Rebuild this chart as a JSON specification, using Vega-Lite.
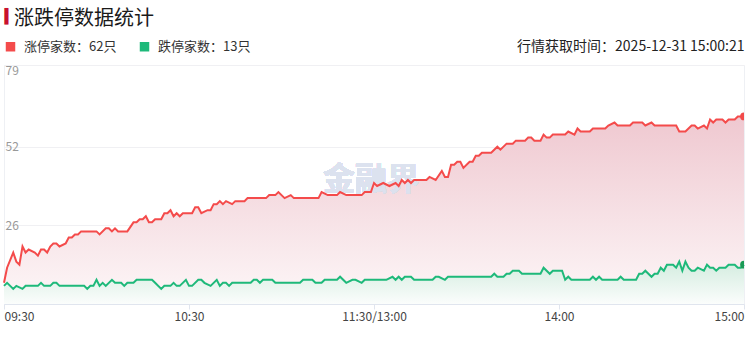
{
  "$schema": "https://vega.github.io/schema/vega-lite/v6.json",
  "width": 740,
  "height": 239,
  "autosize": {"type": "none"},
  "padding": {"left": 4, "top": 65, "right": 5, "bottom": 36},
  "background": "#ffffff",
  "config": {
    "view": {"stroke": "#eef0f4", "strokeWidth": 1},
    "font": "Noto Sans CJK SC"
  },
  "title": {
    "text": "涨跌停数据统计",
    "anchor": "start",
    "frame": "group",
    "dx": 10,
    "offset": -20,
    "fontSize": 20,
    "fontWeight": "normal",
    "color": "#1a1a1a",
    "font": "Noto Sans CJK SC"
  },
  "datasets": {
    "series": [
      {"s":"涨停家数","t":0,"v":7},{"s":"涨停家数","t":1,"v":12},{"s":"涨停家数","t":3,"v":17},{"s":"涨停家数","t":4,"v":14},{"s":"涨停家数","t":5,"v":13},{"s":"涨停家数","t":6,"v":19},{"s":"涨停家数","t":7,"v":17},{"s":"涨停家数","t":8,"v":18},{"s":"涨停家数","t":10,"v":17},{"s":"涨停家数","t":11,"v":16},{"s":"涨停家数","t":12,"v":18},{"s":"涨停家数","t":13,"v":18},{"s":"涨停家数","t":14,"v":17},{"s":"涨停家数","t":15,"v":19},{"s":"涨停家数","t":16,"v":20},{"s":"涨停家数","t":17,"v":20},{"s":"涨停家数","t":18,"v":19},{"s":"涨停家数","t":20,"v":20},{"s":"涨停家数","t":21,"v":22},{"s":"涨停家数","t":22,"v":22},{"s":"涨停家数","t":23,"v":23},{"s":"涨停家数","t":24,"v":23},{"s":"涨停家数","t":25,"v":24},{"s":"涨停家数","t":30,"v":24},{"s":"涨停家数","t":31,"v":23},{"s":"涨停家数","t":33,"v":25},{"s":"涨停家数","t":34,"v":25},{"s":"涨停家数","t":35,"v":24},{"s":"涨停家数","t":36,"v":25},{"s":"涨停家数","t":37,"v":24},{"s":"涨停家数","t":40,"v":24},{"s":"涨停家数","t":42,"v":27},{"s":"涨停家数","t":43,"v":27},{"s":"涨停家数","t":44,"v":28},{"s":"涨停家数","t":45,"v":28},{"s":"涨停家数","t":46,"v":29},{"s":"涨停家数","t":47,"v":27},{"s":"涨停家数","t":48,"v":27},{"s":"涨停家数","t":49,"v":28},{"s":"涨停家数","t":51,"v":28},{"s":"涨停家数","t":52,"v":30},{"s":"涨停家数","t":53,"v":30},{"s":"涨停家数","t":54,"v":31},{"s":"涨停家数","t":55,"v":29},{"s":"涨停家数","t":56,"v":30},{"s":"涨停家数","t":57,"v":29},{"s":"涨停家数","t":58,"v":30},{"s":"涨停家数","t":61,"v":30},{"s":"涨停家数","t":62,"v":32},{"s":"涨停家数","t":63,"v":32},{"s":"涨停家数","t":64,"v":30},{"s":"涨停家数","t":66,"v":31},{"s":"涨停家数","t":67,"v":31},{"s":"涨停家数","t":68,"v":33},{"s":"涨停家数","t":69,"v":33},{"s":"涨停家数","t":70,"v":34},{"s":"涨停家数","t":71,"v":33},{"s":"涨停家数","t":72,"v":34},{"s":"涨停家数","t":74,"v":33},{"s":"涨停家数","t":75,"v":34},{"s":"涨停家数","t":78,"v":34},{"s":"涨停家数","t":79,"v":35},{"s":"涨停家数","t":85,"v":35},{"s":"涨停家数","t":86,"v":36},{"s":"涨停家数","t":88,"v":36},{"s":"涨停家数","t":89,"v":37},{"s":"涨停家数","t":91,"v":35},{"s":"涨停家数","t":93,"v":36},{"s":"涨停家数","t":94,"v":35},{"s":"涨停家数","t":102,"v":35},{"s":"涨停家数","t":103,"v":37},{"s":"涨停家数","t":105,"v":36},{"s":"涨停家数","t":108,"v":36},{"s":"涨停家数","t":109,"v":37},{"s":"涨停家数","t":111,"v":36},{"s":"涨停家数","t":116,"v":36},{"s":"涨停家数","t":117,"v":37},{"s":"涨停家数","t":119,"v":37},{"s":"涨停家数","t":120,"v":40},{"s":"涨停家数","t":121,"v":39},{"s":"涨停家数","t":123,"v":40},{"s":"涨停家数","t":125,"v":39},{"s":"涨停家数","t":127,"v":40},{"s":"涨停家数","t":128,"v":39},{"s":"涨停家数","t":129,"v":41},{"s":"涨停家数","t":130,"v":40},{"s":"涨停家数","t":131,"v":41},{"s":"涨停家数","t":132,"v":40},{"s":"涨停家数","t":133,"v":41},{"s":"涨停家数","t":137,"v":41},{"s":"涨停家数","t":138,"v":42},{"s":"涨停家数","t":140,"v":41},{"s":"涨停家数","t":142,"v":44},{"s":"涨停家数","t":143,"v":42},{"s":"涨停家数","t":144,"v":42},{"s":"涨停家数","t":145,"v":46},{"s":"涨停家数","t":146,"v":46},{"s":"涨停家数","t":147,"v":47},{"s":"涨停家数","t":148,"v":47},{"s":"涨停家数","t":149,"v":45},{"s":"涨停家数","t":151,"v":47},{"s":"涨停家数","t":152,"v":47},{"s":"涨停家数","t":153,"v":49},{"s":"涨停家数","t":154,"v":49},{"s":"涨停家数","t":155,"v":50},{"s":"涨停家数","t":158,"v":50},{"s":"涨停家数","t":160,"v":52},{"s":"涨停家数","t":161,"v":51},{"s":"涨停家数","t":163,"v":53},{"s":"涨停家数","t":165,"v":53},{"s":"涨停家数","t":166,"v":54},{"s":"涨停家数","t":169,"v":54},{"s":"涨停家数","t":170,"v":55},{"s":"涨停家数","t":171,"v":55},{"s":"涨停家数","t":172,"v":54},{"s":"涨停家数","t":174,"v":54},{"s":"涨停家数","t":175,"v":56},{"s":"涨停家数","t":176,"v":55},{"s":"涨停家数","t":177,"v":55},{"s":"涨停家数","t":178,"v":56},{"s":"涨停家数","t":182,"v":56},{"s":"涨停家数","t":183,"v":57},{"s":"涨停家数","t":185,"v":56},{"s":"涨停家数","t":186,"v":58},{"s":"涨停家数","t":187,"v":57},{"s":"涨停家数","t":190,"v":57},{"s":"涨停家数","t":191,"v":58},{"s":"涨停家数","t":195,"v":58},{"s":"涨停家数","t":196,"v":59},{"s":"涨停家数","t":198,"v":60},{"s":"涨停家数","t":199,"v":59},{"s":"涨停家数","t":203,"v":59},{"s":"涨停家数","t":204,"v":60},{"s":"涨停家数","t":207,"v":60},{"s":"涨停家数","t":208,"v":59},{"s":"涨停家数","t":210,"v":60},{"s":"涨停家数","t":211,"v":59},{"s":"涨停家数","t":218,"v":59},{"s":"涨停家数","t":219,"v":57},{"s":"涨停家数","t":221,"v":57},{"s":"涨停家数","t":223,"v":59},{"s":"涨停家数","t":224,"v":59},{"s":"涨停家数","t":225,"v":58},{"s":"涨停家数","t":227,"v":59},{"s":"涨停家数","t":228,"v":58},{"s":"涨停家数","t":229,"v":61},{"s":"涨停家数","t":230,"v":60},{"s":"涨停家数","t":231,"v":61},{"s":"涨停家数","t":233,"v":61},{"s":"涨停家数","t":234,"v":60},{"s":"涨停家数","t":235,"v":61},{"s":"涨停家数","t":237,"v":61},{"s":"涨停家数","t":238,"v":62},{"s":"涨停家数","t":240,"v":62},
      {"s":"跌停家数","t":0,"v":6},{"s":"跌停家数","t":1,"v":7},{"s":"跌停家数","t":2,"v":6},{"s":"跌停家数","t":3,"v":5},{"s":"跌停家数","t":4,"v":6},{"s":"跌停家数","t":6,"v":5},{"s":"跌停家数","t":7,"v":6},{"s":"跌停家数","t":11,"v":6},{"s":"跌停家数","t":12,"v":7},{"s":"跌停家数","t":13,"v":6},{"s":"跌停家数","t":15,"v":6},{"s":"跌停家数","t":16,"v":7},{"s":"跌停家数","t":17,"v":7},{"s":"跌停家数","t":18,"v":6},{"s":"跌停家数","t":26,"v":6},{"s":"跌停家数","t":27,"v":5},{"s":"跌停家数","t":28,"v":6},{"s":"跌停家数","t":29,"v":6},{"s":"跌停家数","t":30,"v":8},{"s":"跌停家数","t":31,"v":6},{"s":"跌停家数","t":32,"v":7},{"s":"跌停家数","t":33,"v":6},{"s":"跌停家数","t":35,"v":8},{"s":"跌停家数","t":36,"v":7},{"s":"跌停家数","t":38,"v":7},{"s":"跌停家数","t":39,"v":6},{"s":"跌停家数","t":40,"v":7},{"s":"跌停家数","t":42,"v":7},{"s":"跌停家数","t":43,"v":8},{"s":"跌停家数","t":48,"v":8},{"s":"跌停家数","t":49,"v":7},{"s":"跌停家数","t":51,"v":5},{"s":"跌停家数","t":52,"v":6},{"s":"跌停家数","t":54,"v":6},{"s":"跌停家数","t":55,"v":7},{"s":"跌停家数","t":56,"v":6},{"s":"跌停家数","t":57,"v":6},{"s":"跌停家数","t":59,"v":8},{"s":"跌停家数","t":60,"v":6},{"s":"跌停家数","t":61,"v":6},{"s":"跌停家数","t":63,"v":8},{"s":"跌停家数","t":64,"v":8},{"s":"跌停家数","t":65,"v":7},{"s":"跌停家数","t":67,"v":6},{"s":"跌停家数","t":69,"v":8},{"s":"跌停家数","t":70,"v":6},{"s":"跌停家数","t":71,"v":7},{"s":"跌停家数","t":72,"v":7},{"s":"跌停家数","t":73,"v":6},{"s":"跌停家数","t":74,"v":7},{"s":"跌停家数","t":80,"v":7},{"s":"跌停家数","t":81,"v":8},{"s":"跌停家数","t":82,"v":8},{"s":"跌停家数","t":83,"v":7},{"s":"跌停家数","t":84,"v":8},{"s":"跌停家数","t":87,"v":8},{"s":"跌停家数","t":88,"v":7},{"s":"跌停家数","t":96,"v":7},{"s":"跌停家数","t":97,"v":8},{"s":"跌停家数","t":100,"v":8},{"s":"跌停家数","t":101,"v":7},{"s":"跌停家数","t":103,"v":7},{"s":"跌停家数","t":104,"v":8},{"s":"跌停家数","t":108,"v":8},{"s":"跌停家数","t":109,"v":9},{"s":"跌停家数","t":111,"v":7},{"s":"跌停家数","t":113,"v":8},{"s":"跌停家数","t":114,"v":8},{"s":"跌停家数","t":116,"v":7},{"s":"跌停家数","t":117,"v":8},{"s":"跌停家数","t":124,"v":8},{"s":"跌停家数","t":126,"v":9},{"s":"跌停家数","t":127,"v":8},{"s":"跌停家数","t":128,"v":9},{"s":"跌停家数","t":129,"v":8},{"s":"跌停家数","t":130,"v":9},{"s":"跌停家数","t":132,"v":9},{"s":"跌停家数","t":133,"v":8},{"s":"跌停家数","t":139,"v":8},{"s":"跌停家数","t":140,"v":9},{"s":"跌停家数","t":141,"v":9},{"s":"跌停家数","t":143,"v":8},{"s":"跌停家数","t":144,"v":9},{"s":"跌停家数","t":158,"v":9},{"s":"跌停家数","t":159,"v":10},{"s":"跌停家数","t":160,"v":9},{"s":"跌停家数","t":162,"v":9},{"s":"跌停家数","t":163,"v":10},{"s":"跌停家数","t":164,"v":10},{"s":"跌停家数","t":165,"v":11},{"s":"跌停家数","t":167,"v":11},{"s":"跌停家数","t":168,"v":10},{"s":"跌停家数","t":174,"v":10},{"s":"跌停家数","t":175,"v":12},{"s":"跌停家数","t":177,"v":10},{"s":"跌停家数","t":178,"v":11},{"s":"跌停家数","t":181,"v":11},{"s":"跌停家数","t":182,"v":8},{"s":"跌停家数","t":183,"v":9},{"s":"跌停家数","t":184,"v":8},{"s":"跌停家数","t":190,"v":8},{"s":"跌停家数","t":191,"v":9},{"s":"跌停家数","t":192,"v":8},{"s":"跌停家数","t":193,"v":9},{"s":"跌停家数","t":194,"v":8},{"s":"跌停家数","t":199,"v":8},{"s":"跌停家数","t":200,"v":9},{"s":"跌停家数","t":201,"v":8},{"s":"跌停家数","t":205,"v":8},{"s":"跌停家数","t":206,"v":10},{"s":"跌停家数","t":207,"v":10},{"s":"跌停家数","t":208,"v":11},{"s":"跌停家数","t":210,"v":9},{"s":"跌停家数","t":211,"v":10},{"s":"跌停家数","t":212,"v":10},{"s":"跌停家数","t":213,"v":12},{"s":"跌停家数","t":214,"v":11},{"s":"跌停家数","t":215,"v":13},{"s":"跌停家数","t":217,"v":13},{"s":"跌停家数","t":218,"v":12},{"s":"跌停家数","t":219,"v":14},{"s":"跌停家数","t":220,"v":11},{"s":"跌停家数","t":221,"v":14},{"s":"跌停家数","t":222,"v":12},{"s":"跌停家数","t":223,"v":11},{"s":"跌停家数","t":224,"v":11},{"s":"跌停家数","t":225,"v":12},{"s":"跌停家数","t":227,"v":11},{"s":"跌停家数","t":228,"v":13},{"s":"跌停家数","t":229,"v":12},{"s":"跌停家数","t":230,"v":12},{"s":"跌停家数","t":231,"v":11},{"s":"跌停家数","t":232,"v":12},{"s":"跌停家数","t":234,"v":12},{"s":"跌停家数","t":235,"v":13},{"s":"跌停家数","t":237,"v":13},{"s":"跌停家数","t":238,"v":12},{"s":"跌停家数","t":239,"v":12},{"s":"跌停家数","t":240,"v":13}
    ]
  },
  "data": {"name": "series"},
  "encoding": {
    "x": {
      "field": "t",
      "type": "quantitative",
      "scale": {"domain": [0, 240], "nice": false, "zero": false},
      "axis": {
        "values": [0, 60, 120, 180, 240],
        "labelExpr": "datum.value == 0 ? '09:30' : datum.value == 60 ? '10:30' : datum.value == 120 ? '11:30/13:00' : datum.value == 180 ? '14:00' : '15:00'",
        "labelFlush": true,
        "labelFontSize": 12,
        "labelColor": "#444444",
        "labelFont": "Noto Sans CJK SC",
        "labelPadding": 2,
        "grid": false,
        "domainColor": "#e0e5ee",
        "tickColor": "#e0e5ee",
        "tickSize": 5,
        "title": "行情获取时间：2025-12-31 15:00:21",
        "titleX": 740,
        "titleY": -258,
        "titleAlign": "right",
        "titleBaseline": "middle",
        "titleAngle": 0,
        "titleFontSize": 14,
        "titleFontWeight": "normal",
        "titleColor": "#222222",
        "titleFont": "Noto Sans CJK SC"
      }
    },
    "y": {
      "field": "v",
      "type": "quantitative",
      "scale": {"domain": [0, 79], "nice": false},
      "axis": {
        "values": [0, 26, 52, 79],
        "labelFlush": true,
        "labelAlign": "left",
        "labelPadding": -1,
        "labelFontSize": 12,
        "labelColor": "#999999",
        "labelFont": "Noto Sans CJK SC",
        "ticks": false,
        "domain": false,
        "grid": true,
        "gridColor": "#f0f0f3",
        "title": "▍",
        "titleX": 0,
        "titleY": -49,
        "titleAngle": 0,
        "titleAlign": "left",
        "titleBaseline": "middle",
        "titleFont": "DejaVu Sans",
        "titleFontSize": 14,
        "titleFontWeight": "normal",
        "titleColor": "#c8102e"
      }
    }
  },
  "layer": [
    {
      "transform": [{"filter": "datum.s == '涨停家数'"}],
      "mark": {
        "type": "area",
        "color": {
          "gradient": "linear", "x1": 0, "y1": 0, "x2": 0, "y2": 1,
          "stops": [
            {"offset": 0, "color": "#efc8d0"},
            {"offset": 1, "color": "#fdf7f8"}
          ]
        }
      }
    },
    {
      "transform": [{"filter": "datum.s == '跌停家数'"}],
      "mark": {
        "type": "area",
        "color": {
          "gradient": "linear", "x1": 0, "y1": 0, "x2": 0, "y2": 1,
          "stops": [
            {"offset": 0, "color": "#d3ecdf"},
            {"offset": 1, "color": "#fbfdfc"}
          ]
        }
      }
    },
    {
      "mark": {"type": "text", "text": "金融界", "fontSize": 32, "fontWeight": "bold", "color": "#dce2ef", "opacity": 0.85, "font": "Noto Sans CJK SC"},
      "encoding": {
        "x": {"datum": 119},
        "y": {"datum": 41}
      }
    },
    {
      "mark": {"type": "line", "strokeWidth": 2, "interpolate": "linear"},
      "encoding": {
        "color": {
          "field": "s",
          "type": "nominal",
          "scale": {"domain": ["涨停家数", "跌停家数"], "range": ["#f44b4b", "#1eb97a"]},
          "legend": {
            "orient": "none",
            "legendX": 0,
            "legendY": -25,
            "direction": "horizontal",
            "title": null,
            "symbolType": "square",
            "symbolSize": 90,
            "symbolStrokeWidth": 0,
            "symbolOpacity": 1,
            "labelFontSize": 13,
            "labelColor": "#333333",
            "labelFont": "Noto Sans CJK SC",
            "labelOffset": 7,
            "columnPadding": 21,
            "labelExpr": "datum.label == '涨停家数' ? '涨停家数：62只' : '跌停家数：13只'",
            "encode": {
              "symbols": {"update": {"fill": {"scale": "color", "field": "value"}, "fillOpacity": {"value": 1}}}
            }
          }
        }
      }
    },
    {
      "transform": [{"filter": "datum.t == 240"}],
      "mark": {"type": "point", "filled": true, "size": 60, "opacity": 1, "clip": true},
      "encoding": {
        "color": {
          "condition": {"test": "datum.s == '涨停家数'", "value": "#f24a4a"},
          "value": "#1a9a55"
        }
      }
    }
  ]
}
